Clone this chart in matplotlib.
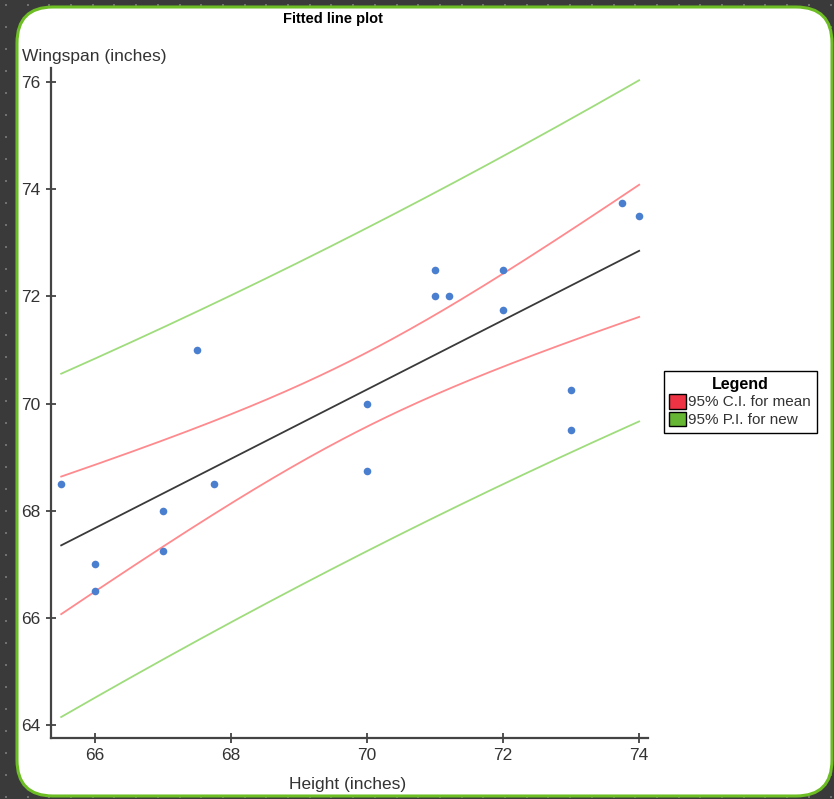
import numpy as np
import matplotlib
matplotlib.use('Agg')
import matplotlib.pyplot as plt
from matplotlib.patches import FancyBboxPatch, Patch

plt.rcParams['font.family'] = ['Liberation Sans', 'DejaVu Sans']

# data
height = [65.5, 66, 66, 67, 67, 67.5, 67.75, 70, 70, 71, 71, 71.2, 72, 72, 73, 73, 73.75, 74]
wingspan = [68.5, 67, 66.5, 68, 67.25, 71, 68.5, 70, 68.75, 72.5, 72, 72, 72.5, 71.75, 70.25, 69.5, 73.75, 73.5]
x_ticks = [66, 68, 70, 72, 74]
y_ticks = [64, 66, 68, 70, 72, 74, 76]
legend_labels = ['95% C.I. for mean', '95% P.I. for new']

t_crit = 2.120   # t(0.975, df=16)

x = np.array(height)
y = np.array(wingspan)
n = len(x)
slope, icpt = np.polyfit(x, y, 1)
resid = y - (icpt + slope * x)
s = np.sqrt(np.sum(resid ** 2) / (n - 2))
sxx = np.sum((x - x.mean()) ** 2)

xs = np.linspace(x.min(), x.max(), 200)
fit = icpt + slope * xs
se_mean = s * np.sqrt(1 / n + (xs - x.mean()) ** 2 / sxx)
se_new = s * np.sqrt(1 + 1 / n + (xs - x.mean()) ** 2 / sxx)

W, H = 834, 799
fig = plt.figure(figsize=(W / 100, H / 100), dpi=100)
fig.patch.set_facecolor('#3a3a3a')

# background with dots and rounded white panel
bg = fig.add_axes([0, 0, 1, 1])
bg.set_xlim(0, W)
bg.set_ylim(H, 0)
bg.axis('off')
gx, gy = np.meshgrid(np.arange(6, W, 21.7), np.arange(5, H, 22))
bg.scatter(gx.ravel(), gy.ravel(), s=3, color='#707070', marker='s', linewidths=0)
panel = FancyBboxPatch((17, 7), 815, 789, boxstyle='round,pad=0,rounding_size=36',
                       facecolor='white', edgecolor='#6dbd24', linewidth=2.2)
bg.add_patch(panel)

ax = fig.add_axes([51 / W, 1 - 738 / H, (648 - 51) / W, (738 - 68) / H])
ax.set_facecolor('none')
ax.set_xlim(65.35, 74.13)
ax.set_ylim(63.76, 76.26)

ax.plot(xs, icpt + slope * xs + t_crit * se_new, color='#9fdc7c', lw=1.3)
ax.plot(xs, icpt + slope * xs - t_crit * se_new, color='#9fdc7c', lw=1.3)
ax.plot(xs, fit + t_crit * se_mean, color='#ff8a8e', lw=1.3)
ax.plot(xs, fit - t_crit * se_mean, color='#ff8a8e', lw=1.3)
ax.plot(xs, fit, color='#3a3a3a', lw=1.3)
ax.scatter(x, y, s=30, color='#4a7fcf', zorder=5, linewidths=0)

for sp in ['top', 'right']:
    ax.spines[sp].set_visible(False)
for sp in ['left', 'bottom']:
    ax.spines[sp].set_color('#444444')
    ax.spines[sp].set_linewidth(1.6)

ax.set_xticks(x_ticks)
ax.set_yticks(y_ticks)
ax.tick_params(direction='inout', length=7, width=1.2, color='#333333',
               labelsize=12.5, labelcolor='#333333', pad=4)

fig.text(22 / W, 1 - 57 / H, 'Wingspan (inches)', fontsize=12.5, color='#333333',
         ha='left', va='center')
fig.text(348 / W, 1 - 785 / H, 'Height (inches)', fontsize=12.5, color='#333333',
         ha='center', va='center')
fig.text(333 / W, 1 - 19 / H, 'Fitted line plot', fontsize=10.5, fontweight='bold',
         color='black', ha='center', va='center')

handles = [Patch(facecolor='#ee3344', edgecolor='black'),
           Patch(facecolor='#66b533', edgecolor='black')]
leg = ax.legend(handles, legend_labels, title='Legend', loc='center left',
                bbox_to_anchor=(664 / W, 1 - 402 / H), bbox_transform=fig.transFigure,
                fancybox=False, edgecolor='black', framealpha=1, fontsize=11,
                title_fontproperties={'weight': 'bold', 'size': 11.5},
                handlelength=1.1, handleheight=1.1, handletextpad=0.15,
                borderpad=0.35, labelspacing=0.15, borderaxespad=0)
leg.get_frame().set_linewidth(1.0)
for t in leg.get_texts():
    t.set_color('#333333')

fig.savefig('out.png', dpi=100, facecolor=fig.get_facecolor())
